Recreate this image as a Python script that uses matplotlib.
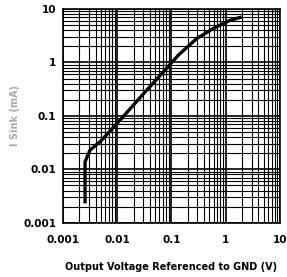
import numpy as np
import matplotlib
matplotlib.use('Agg')
import matplotlib.pyplot as plt
from matplotlib.ticker import LogLocator, NullFormatter, FixedLocator

# ===== 曲线数据 =====
v_out = [0.00255, 0.00255, 0.00315, 0.00481, 0.00735, 0.01125, 0.0172,
         0.0302, 0.0706, 0.133, 0.292, 0.589, 1.20, 1.97]
i_sink = [0.0023, 0.0138, 0.0229, 0.0327, 0.052, 0.083, 0.135,
          0.257, 0.662, 1.36, 2.80, 4.31, 6.15, 7.08]

x_ticks = [0.001, 0.01, 0.1, 1, 10]
x_labels = ['0.001', '0.01', '0.1', '1', '10']
y_ticks = [0.001, 0.01, 0.1, 1, 10]
y_labels = ['0.001', '0.01', '0.1', '1', '10']

plt.rcParams['font.family'] = ['DejaVu Sans']

fig = plt.figure(figsize=(2.87, 2.77), dpi=100)
ax = fig.add_axes([0.2195, 0.196, 0.756, 0.7715])

ax.set_xscale('log')
ax.set_yscale('log')
ax.set_xlim(0.001, 10)
ax.set_ylim(0.001, 10)

ax.plot(v_out, i_sink, color='black', linewidth=2.4, solid_capstyle='butt', zorder=5)

ax.xaxis.set_major_locator(FixedLocator(x_ticks))
ax.yaxis.set_major_locator(FixedLocator(y_ticks))
ax.xaxis.set_minor_locator(LogLocator(base=10, subs=np.arange(2, 10)))
ax.yaxis.set_minor_locator(LogLocator(base=10, subs=np.arange(2, 10)))
ax.xaxis.set_minor_formatter(NullFormatter())
ax.yaxis.set_minor_formatter(NullFormatter())
ax.set_xticklabels(x_labels, fontsize=7.5, fontweight='bold')
ax.set_yticklabels(y_labels, fontsize=7.5, fontweight='bold')

ax.grid(which='major', color='black', linewidth=1.2)
ax.grid(which='minor', color='black', linewidth=0.8)
ax.tick_params(which='both', length=0)
ax.tick_params(axis='x', pad=9)
ax.tick_params(axis='y', pad=5)
for s in ax.spines.values():
    s.set_linewidth(1.2)

ax.set_xlabel('Output Voltage Referenced to GND (V)', fontsize=7, fontweight='bold',
              labelpad=12)
ax.set_ylabel('I Sink (mA)', fontsize=7, fontweight='bold', color='#aaaaaa')
ax.yaxis.set_label_coords(-0.198, 0.5)

fig.savefig('out.png', dpi=100)
